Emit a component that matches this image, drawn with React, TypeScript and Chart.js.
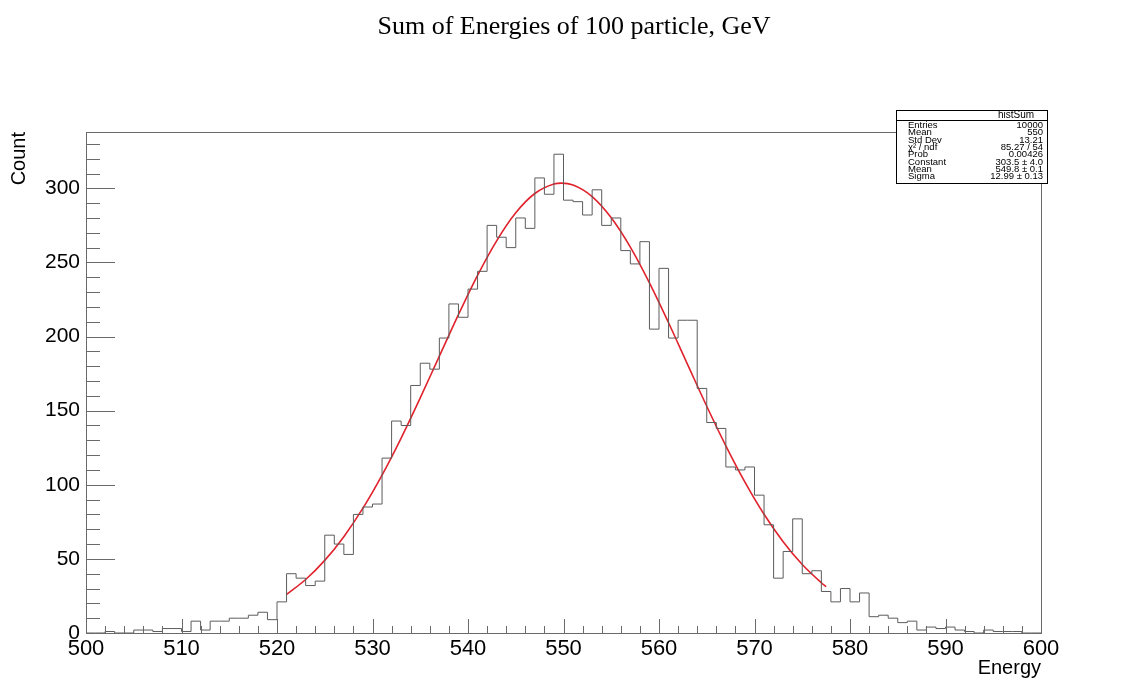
import React, { useEffect, useRef } from 'react';
import { Chart, registerables } from 'chart.js';

Chart.register(...registerables);

// ---- data ----
const binLow = 500;
const binWidth = 1;
const counts = [
  0, 0, 1, 0, 0, 2, 2, 1, 3, 3,
  1, 8, 2, 8, 8, 10, 10, 12, 14, 9,
  21, 40, 37, 32, 35, 66, 60, 53, 80, 85,
  87, 118, 143, 140, 167, 182, 178, 199, 222, 213,
  232, 244, 275, 267, 260, 280, 273, 307, 296, 323,
  292, 291, 282, 299, 275, 280, 258, 249, 264, 205,
  246, 199, 211, 211, 165, 142, 138, 112, 110, 112,
  93, 73, 37, 55, 77, 40, 42, 28, 21, 30,
  21, 27, 11, 12, 10, 7, 8, 2, 4, 3,
  4, 2, 1, 0, 2, 1, 1, 1, 0, 0,
];

const fitX = [521, 523, 525, 527, 529, 531, 533, 535, 537, 539, 541, 543, 545, 547, 549, 549.8,
  551, 553, 555, 557, 559, 561, 563, 565, 567, 569, 571, 573, 575, 577, 577.5];
const fitY = [26.0, 36.1, 49.0, 65.0, 84.2, 106.5, 131.5, 158.6, 186.8, 214.8, 241.3, 264.6, 283.5, 296.5, 302.9, 303.5,
  302.2, 294.4, 280.1, 260.3, 236.2, 209.3, 181.1, 153.0, 126.3, 101.8, 80.1, 61.6, 46.2, 33.9, 31.2];

const xTicks = [500, 510, 520, 530, 540, 550, 560, 570, 580, 590, 600];
const yTicks = [0, 50, 100, 150, 200, 250, 300];
const xMin = 500, xMax = 600, xMinorStep = 2, xMajorStep = 10;
const yMin = 0, yMax = 338, yMinorStep = 10, yMajorStep = 50;

const titleText = 'Sum of Energies of 100 particle, GeV';
const xTitle = 'Energy';
const yTitle = 'Count';
const statsTitle = 'histSum';
const statLabels = ['Entries', 'Mean', 'Std Dev', 'χ² / ndf', 'Prob', 'Constant', 'Mean', 'Sigma'];
const statValues = ['10000', '550', '13.21', '85.27 / 54', '0.00426', '303.5 ± 4.0', '549.8 ± 0.1', '12.99 ± 0.13'];

const SANS = '"Liberation Sans", Arial, Helvetica, sans-serif';
const SERIF = '"Liberation Serif", "Times New Roman", serif';

const decor = {
  id: 'decor',
  afterDraw(chart: any) {
    const { ctx, chartArea: a, scales } = chart;
    const x = scales.x, y = scales.y;
    ctx.save();
    // frame
    ctx.strokeStyle = '#6a6a6a';
    ctx.lineWidth = 1;
    ctx.strokeRect(Math.round(a.left) + 0.5, Math.round(a.top) + 0.5,
      Math.round(a.right) - Math.round(a.left), Math.round(a.bottom) - Math.round(a.top));
    // x ticks
    ctx.beginPath();
    const nx = Math.round((xMax - xMin) / xMinorStep);
    for (let i = 0; i <= nx; i++) {
      const v = xMin + i * xMinorStep;
      const px = Math.round(x.getPixelForValue(v)) + 0.5;
      const len = (v - xMin) % xMajorStep === 0 ? 14 : 7;
      ctx.moveTo(px, a.bottom);
      ctx.lineTo(px, a.bottom - len);
    }
    // y ticks
    const ny = Math.floor((yMax - yMin) / yMinorStep);
    for (let i = 0; i <= ny; i++) {
      const v = yMin + i * yMinorStep;
      const py = Math.round(y.getPixelForValue(v)) + 0.5;
      const len = v % yMajorStep === 0 ? 29 : 14;
      ctx.moveTo(a.left, py);
      ctx.lineTo(a.left + len, py);
    }
    ctx.stroke();

    // title
    ctx.fillStyle = '#000';
    ctx.font = `26px ${SERIF}`;
    ctx.textAlign = 'center';
    ctx.textBaseline = 'middle';
    ctx.fillText(titleText, 574, 27);

    // axis titles
    ctx.font = `20px ${SANS}`;
    ctx.textAlign = 'right';
    ctx.fillText(xTitle, a.right, 668);
    ctx.save();
    ctx.translate(19, a.top);
    ctx.rotate(-Math.PI / 2);
    ctx.textAlign = 'right';
    ctx.fillText(yTitle, 0, 0);
    ctx.restore();

    // stats box
    const bx = 896.5, by = 110.5, bw = 151, bh = 73;
    ctx.fillStyle = '#fff';
    ctx.fillRect(bx, by, bw, bh);
    ctx.strokeStyle = '#000';
    ctx.strokeRect(bx, by, bw, bh);
    ctx.beginPath();
    ctx.moveTo(bx, 120.5);
    ctx.lineTo(bx + bw, 120.5);
    ctx.stroke();
    ctx.fillStyle = '#000';
    ctx.font = `10px ${SANS}`;
    ctx.textAlign = 'center';
    ctx.fillText(statsTitle, 1016, 115.5);
    ctx.font = `9.5px ${SANS}`;
    for (let i = 0; i < statLabels.length; i++) {
      const ry = 125.5 + i * 7.3;
      ctx.textAlign = 'left';
      ctx.fillText(statLabels[i], 908, ry);
      ctx.textAlign = 'right';
      ctx.fillText(statValues[i], 1043, ry);
    }
    ctx.restore();
  },
};

export default function App() {
  const ref = useRef<HTMLCanvasElement | null>(null);
  useEffect(() => {
    document.body.style.margin = '0';
    const histPoints = counts.map((c, i) => ({ x: binLow + i * binWidth, y: c }));
    histPoints.push({ x: binLow + counts.length * binWidth, y: counts[counts.length - 1] });
    const fitPoints = fitX.map((v, i) => ({ x: v, y: fitY[i] }));
    const chart = new Chart(ref.current as HTMLCanvasElement, {
      type: 'line',
      data: {
        datasets: [
          {
            label: 'hist',
            data: histPoints,
            stepped: true,
            borderColor: '#5c5c5c',
            borderWidth: 1,
            pointRadius: 0,
            fill: false,
          },
          {
            label: 'fit',
            data: fitPoints,
            borderColor: '#e0222c',
            borderWidth: 1.6,
            pointRadius: 0,
            cubicInterpolationMode: 'monotone',
            fill: false,
          },
        ],
      },
      options: {
        animation: false,
        responsive: false,
        parsing: false as any,
        layout: { padding: { top: 132, right: 92, left: 0, bottom: 0 } },
        plugins: { legend: { display: false }, tooltip: { enabled: false }, title: { display: false } },
        scales: {
          x: {
            type: 'linear',
            min: xMin,
            max: xMax,
            grid: { display: false, drawTicks: false },
            border: { display: false },
            afterBuildTicks: (s: any) => { s.ticks = xTicks.map((v) => ({ value: v })); },
            afterFit: (s: any) => { s.height = 47; },
            ticks: {
              padding: 3,
              color: '#000',
              font: { family: SANS, size: 22 },
              maxRotation: 0,
              autoSkip: false,
              callback: (v: any) => String(v),
            },
          },
          y: {
            type: 'linear',
            min: yMin,
            max: yMax,
            grid: { display: false, drawTicks: false },
            border: { display: false },
            afterBuildTicks: (s: any) => { s.ticks = yTicks.map((v) => ({ value: v })); },
            afterFit: (s: any) => { s.width = 86; },
            ticks: {
              padding: 6,
              color: '#000',
              font: { family: SANS, size: 21 },
              autoSkip: false,
              callback: (v: any) => String(v),
            },
          },
        },
      } as any,
      plugins: [decor],
    });
    return () => chart.destroy();
  }, []);
  return (
    <div style={{ width: 1133, height: 680, background: '#fff' }}>
      <canvas ref={ref} width={1133} height={680} />
    </div>
  );
}
